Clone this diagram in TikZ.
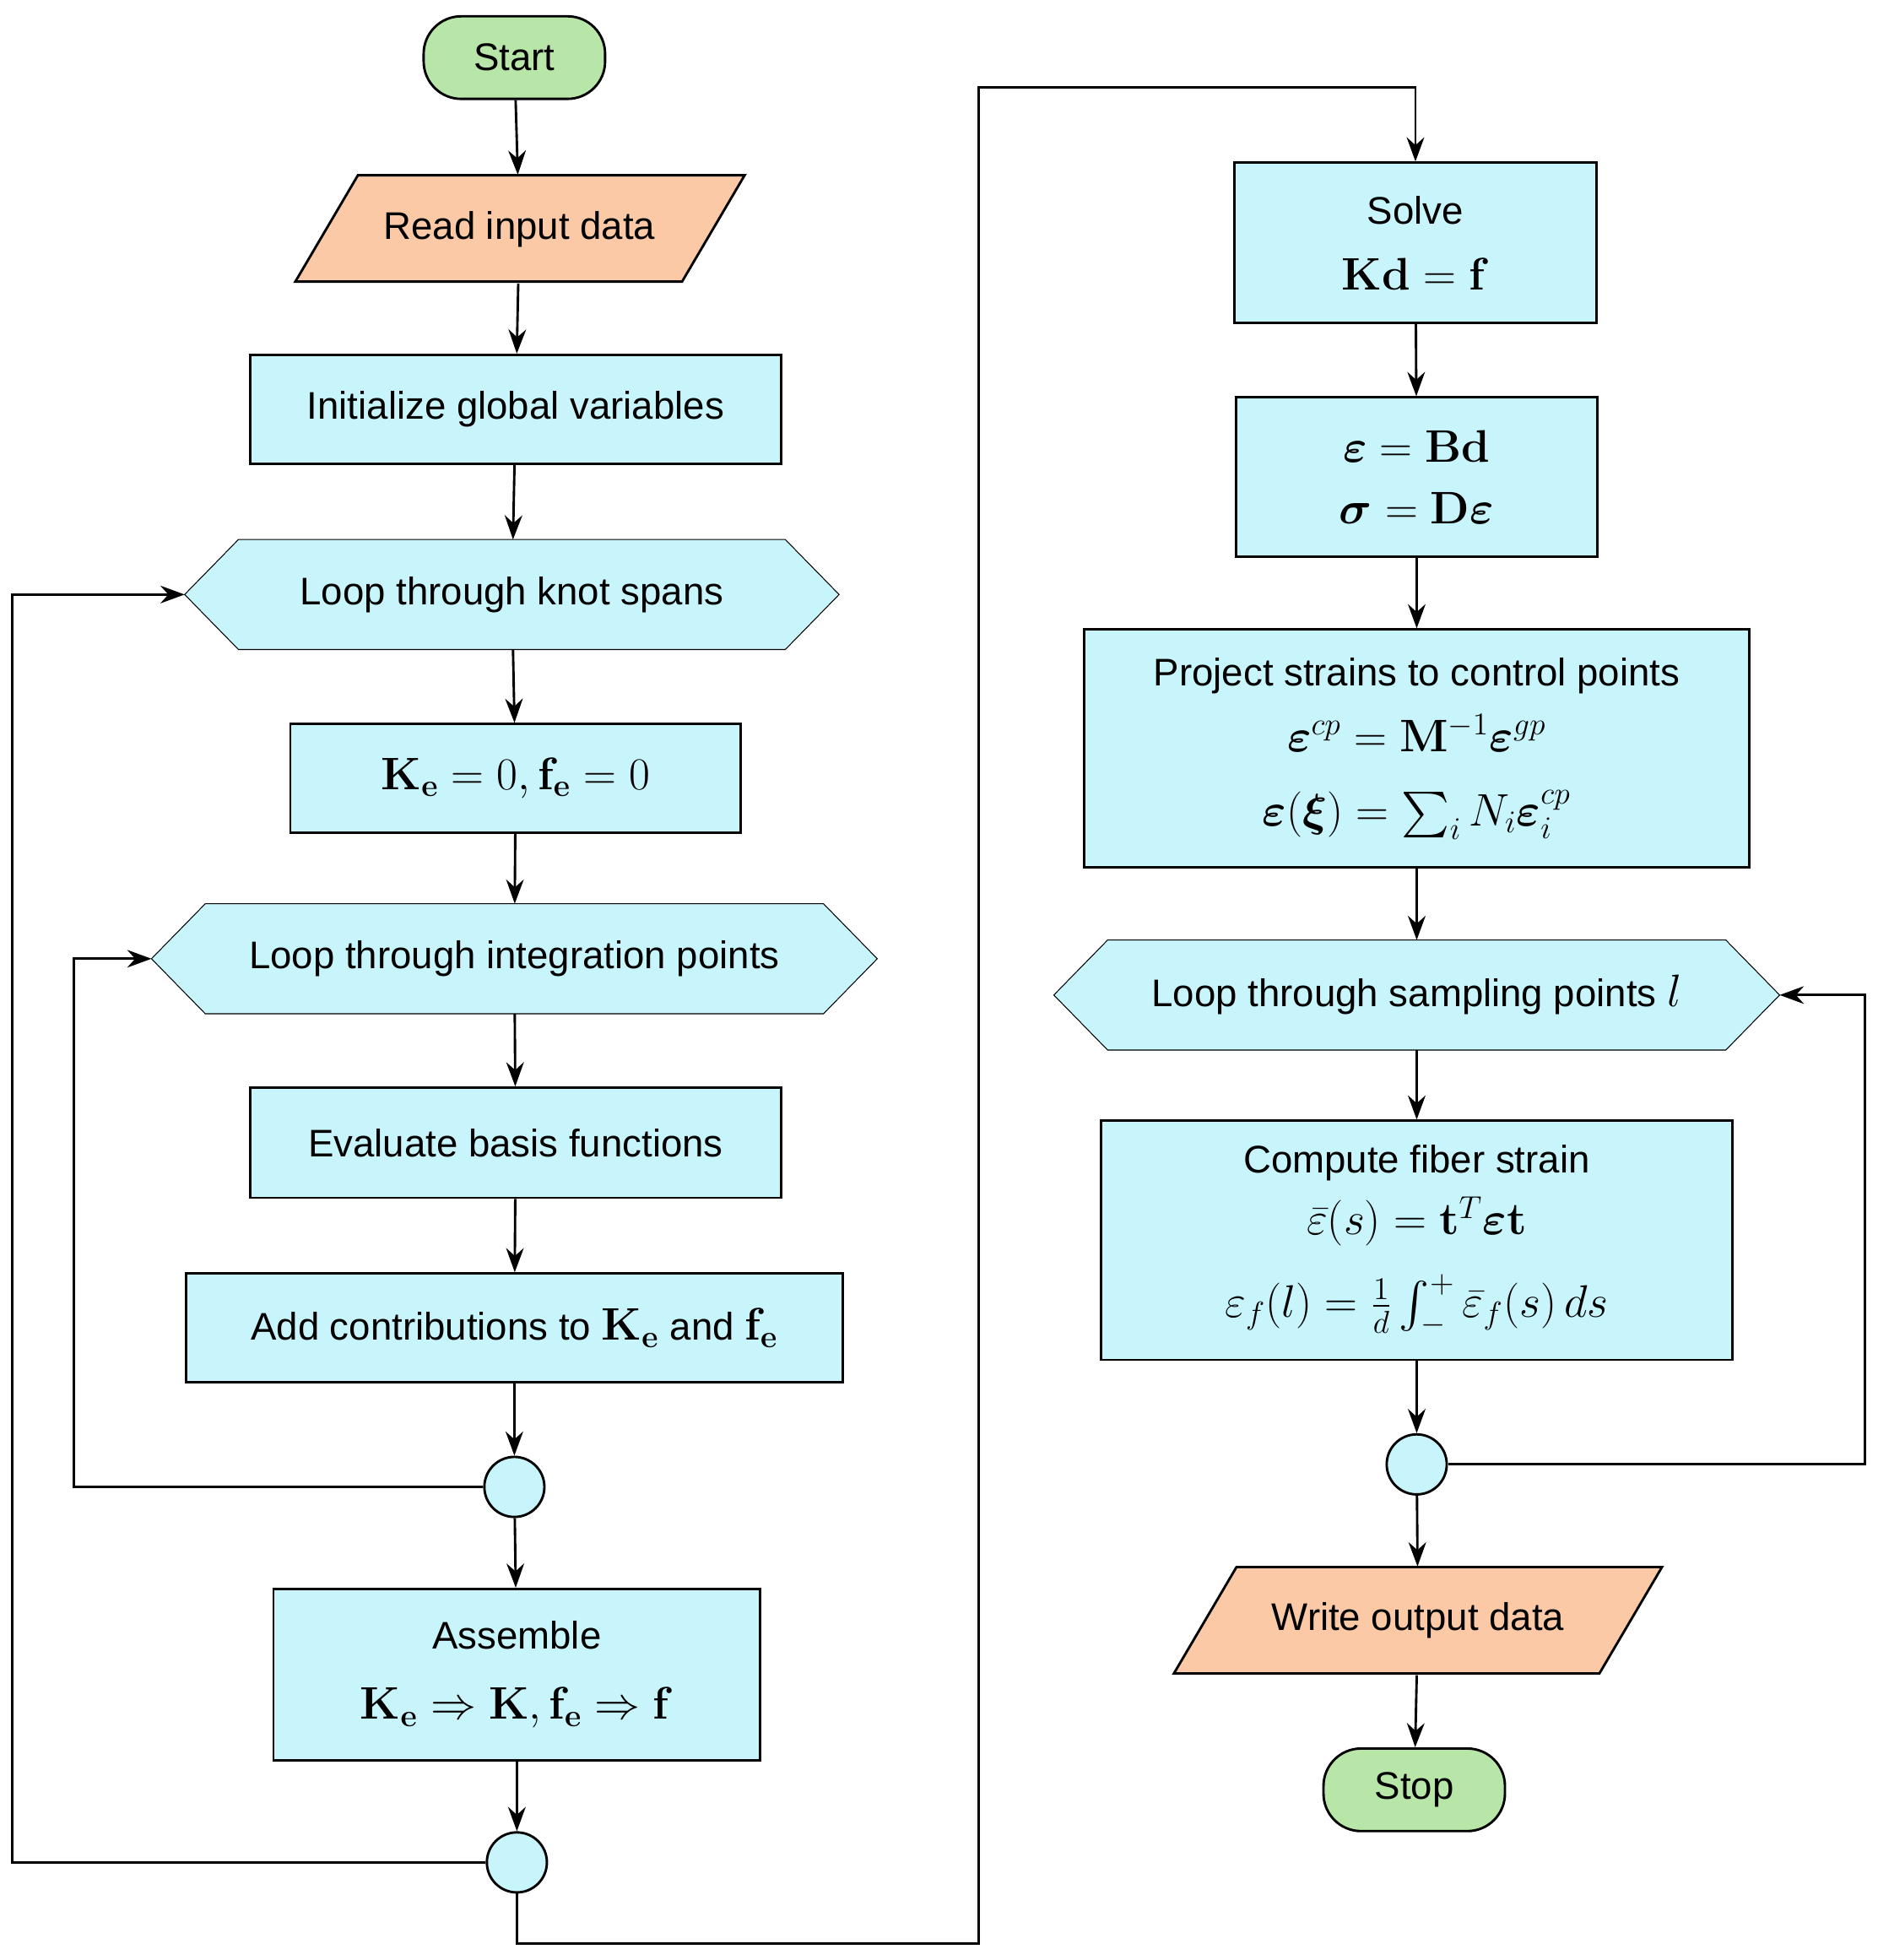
\documentclass[tikz,border=0pt]{standalone}
\usepackage{amsmath,bm}
\usepackage[no-math]{fontspec}
\setmainfont{Liberation Sans}
\usetikzlibrary{arrows.meta,backgrounds}
\definecolor{cy}{HTML}{C8F4FC}
\definecolor{gr}{HTML}{B8E6A8}
\definecolor{orng}{HTML}{FBC9A6}
\newcommand\mth[1]{{\fontsize{21}{26}\selectfont$#1$}}
\begin{document}
\begin{tikzpicture}[x=0.02cm,y=-0.02cm,line width=1.1pt,
  every node/.style={font=\fontsize{17.5}{24}\selectfont,inner sep=0pt,align=center},
  box/.style={draw,fill=cy,minimum height=#1*0.02cm},
  term/.style={draw,fill=gr,rounded corners=0.6cm,minimum width=145*0.02cm,minimum height=66*0.02cm},
  hexn/.style={minimum height=86*0.02cm},
  circ/.style={draw,fill=cy,circle,minimum size=0.96cm},
  arr/.style={-{Stealth[length=11pt,width=8pt]}}]
\useasboundingbox (0,0) rectangle (1500,1566);
% left column
\node[term] (start) at (411,46) {Start};
\fill[orng] (286,140) -- (595,140) -- (545,225) -- (236,225) -- cycle;
\draw (286,140) -- (595,140) -- (545,225) -- (236,225) -- cycle;
\node[minimum width=310*0.02cm,minimum height=85*0.02cm] (read) at (415,183) {Read input data};
\node[box=87,minimum width=424*0.02cm] (init) at (412,327) {Initialize global variables};
\node[hexn,minimum width=521*0.02cm] (knot) at (409,475) {Loop through knot spans};
\node[box=87,minimum width=360*0.02cm] (ke) at (412,622) {\mth{\mathbf{K}_\mathbf{e}=0,\mathbf{f}_\mathbf{e}=0}};
\node[hexn,minimum width=578*0.02cm] (ip) at (411,766) {Loop through integration points};
\node[box=88,minimum width=424*0.02cm] (eval) at (412,913) {Evaluate basis functions};
\node[box=87,minimum width=525*0.02cm] (add) at (411,1061) {Add contributions to \mth{\mathbf{K}_\mathbf{e}} and \mth{\mathbf{f}_\mathbf{e}}};
\node[circ] (c1) at (411,1188) {};
\node[box=137,minimum width=389*0.02cm] (asm) at (413,1338) {Assemble\\[8pt] \mth{\mathbf{K}_\mathbf{e}\Rightarrow\mathbf{K},\mathbf{f}_\mathbf{e}\Rightarrow\mathbf{f}}};
\node[circ] (c2) at (413,1488) {};
% right column
\node[box=128,minimum width=289*0.02cm] (solve) at (1131,194) {Solve\\[6pt]\mth{\mathbf{K}\mathbf{d}=\mathbf{f}}};
\node[box=127,minimum width=289*0.02cm] (eps) at (1132,381) {\mth{\bm{\varepsilon}=\mathbf{B}\mathbf{d}}\\[4pt] \mth{\bm{\sigma}=\mathbf{D}\bm{\varepsilon}}};
\node[box=190,minimum width=532*0.02cm] (proj) at (1132,598) {Project strains to control points\\[6pt] \mth{\bm{\varepsilon}^{cp}=\mathbf{M}^{-1}\bm{\varepsilon}^{gp}}\\[10pt] \mth{\bm{\varepsilon}(\bm{\xi})=\sum_i N_i\bm{\varepsilon}_i^{cp}}};
\node[hexn,minimum width=578*0.02cm] (samp) at (1132,795) {Loop through sampling points \mth{l}};
\node[box=191,minimum width=504*0.02cm] (comp) at (1132,991) {Compute fiber strain\\[4pt] \mth{\bar{\varepsilon}(s)=\mathbf{t}^T\bm{\varepsilon}\mathbf{t}}\\[12pt] \mth{\varepsilon_f(l)=\frac{1}{d}\int_-^+\bar{\varepsilon}_f(s)\,ds}};
\node[circ] (c3) at (1132,1170) {};
\fill[orng] (988,1252) -- (1328,1252) -- (1278,1337) -- (938,1337) -- cycle;
\draw (988,1252) -- (1328,1252) -- (1278,1337) -- (938,1337) -- cycle;
\node[minimum width=340*0.02cm,minimum height=85*0.02cm] (write) at (1133,1295) {Write output data};
\node[term] (stop) at (1130,1430) {Stop};
% hexagons
\begin{scope}[on background layer]
\foreach \n in {knot,ip,samp}{
  \draw[fill=cy] (\n.west) -- ([xshift=43*0.02cm]\n.north west) -- ([xshift=-43*0.02cm]\n.north east) -- (\n.east) -- ([xshift=-43*0.02cm]\n.south east) -- ([xshift=43*0.02cm]\n.south west) -- cycle;}
\end{scope}
% connectors
\draw[arr] (start) -- (read);
\draw[arr] (read) -- (init);
\draw[arr] (init) -- (knot);
\draw[arr] (knot) -- (ke);
\draw[arr] (ke) -- (ip);
\draw[arr] (ip) -- (eval);
\draw[arr] (eval) -- (add);
\draw[arr] (add) -- (c1);
\draw[arr] (c1) -- (asm);
\draw[arr] (asm) -- (c2);
\draw[arr] (c1.west) -| (59,766) -- (ip.west);
\draw[arr] (c2.west) -| (10,475) -- (knot.west);
\draw[arr] (c2.south) |- (782,1553) |- (1131,70) -- (solve.north);
\draw[arr] (solve) -- (eps);
\draw[arr] (eps) -- (proj);
\draw[arr] (proj) -- (samp);
\draw[arr] (samp) -- (comp);
\draw[arr] (comp) -- (c3);
\draw[arr] (c3) -- (write);
\draw[arr] (write) -- (stop);
\draw[arr] (c3.east) -| (1490,795) -- (samp.east);
\end{tikzpicture}
\end{document}
